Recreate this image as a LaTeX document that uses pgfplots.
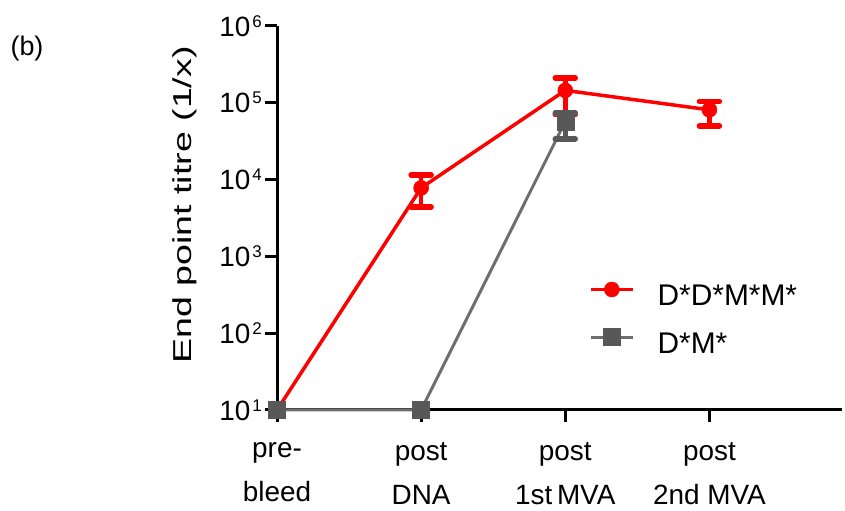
\documentclass[border=0pt]{standalone}
\usepackage{pgfplots}
\pgfplotsset{compat=1.18}
\usepackage{fontspec}
\setmainfont{Liberation Sans}
\usepackage{graphicx}
\definecolor{myred}{RGB}{255,0,0}
\definecolor{gline}{RGB}{110,110,110}
\definecolor{gmark}{RGB}{88,88,88}
\newcommand{\pw}[1]{10\hspace{2bp}\raisebox{9bp}{\fontsize{17}{17}\selectfont #1}}
\begin{document}
\begin{tikzpicture}[x=1bp,y=1bp]
\useasboundingbox (0,0) rectangle (845,511);
\node[font=\fontsize{27}{27}\selectfont] at (27,462) {(b)};
\node[rotate=90, font=\fontsize{26}{26}\selectfont] at (185,306) {\scalebox{1.45}[1]{End point titre (1/x)}};
\begin{axis}[
  at={(277bp,101bp)}, anchor=south west,
  scale only axis, width=565bp, height=384bp,
  xmin=0, xmax=3.92, ymode=log, ymin=10, ymax=1e6,
  axis x line=bottom, axis y line=left,
  axis line style={line width=3bp, -, black},
  xtick={0,1,2,3},
  xticklabels={pre-\\bleed, post\\DNA, post\\1st\,MVA, post\\2nd MVA},
  ytick={10,100,1000,10000,100000,1000000},
  yticklabels={\pw{1},\pw{2},\pw{3},\pw{4},\pw{5},\pw{6}},
  yminorticks=false, xminorticks=false,
  tick align=outside, major tick length=12bp,
  tick style={line width=3bp, black},
  xticklabel style={align=center, font=\fontsize{28}{44}\selectfont, inner sep=0pt, yshift=-20bp},
  yticklabel style={font=\fontsize{28}{28}\selectfont, inner sep=0pt, xshift=-3bp},
  clip=false,
  legend cell align=left,
  legend style={at={(0.552,0.233)}, anchor=west, draw=none, fill=none, inner sep=0pt,
    nodes={inner sep=0pt, text height=22bp, text depth=6bp, font=\fontsize{30}{30}\selectfont},
    row sep=17bp, /tikz/every odd column/.append style={column sep=23bp}},
  legend image code/.code={\draw[#1, mark repeat=2, mark phase=2] plot coordinates {(0bp,8bp)(21bp,8bp)(42bp,8bp)};},
]
\addplot[myred, line width=3.5bp, mark=*, mark size=7.5bp, mark options={solid, fill=myred, draw=myred, line width=0.5bp}]
  coordinates {(0,10) (1,7800) (2,145000) (3,81000)};
\addlegendentry{D*D*M*M*}
\addplot[forget plot, draw=none, mark=none,
  error bars/.cd, y dir=both, y explicit, error mark=|,
  error bar style={draw=myred, line width=4.5bp},
  error mark options={draw=myred, line width=5.5bp, mark size=10bp, line cap=round}]
  coordinates {(1,7800) += (0,3700) -= (0,3400)
               (2,145000) += (0,65000) -= (0,75000)
               (3,81000) += (0,23000) -= (0,31000)};
\addplot[gline, line width=3bp, mark=square*, mark size=8.5bp, mark options={solid, fill=gmark, draw=gmark, line width=0.5bp}]
  coordinates {(0,10) (1,10) (2,57000)};
\addlegendentry{D*M*}
\addplot[forget plot, draw=none, mark=none,
  error bars/.cd, y dir=both, y explicit, error mark=|,
  error bar style={draw=gmark, line width=4.5bp},
  error mark options={draw=gmark, line width=5.5bp, mark size=10bp, line cap=round}]
  coordinates {(2,57000) += (0,17000) -= (0,23000)};
\end{axis}
\end{tikzpicture}
\end{document}
